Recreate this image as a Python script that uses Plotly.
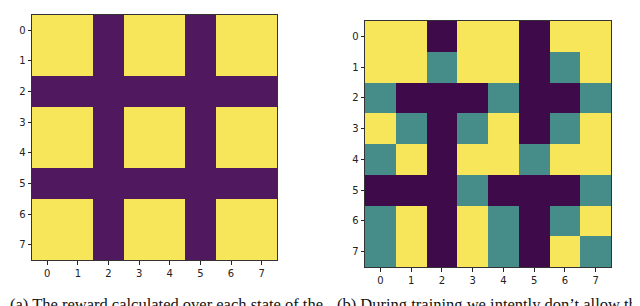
import plotly.graph_objects as go

rows = [0, 1, 2, 3, 4, 5, 6, 7]
cols = [0, 1, 2, 3, 4, 5, 6, 7]
tick_labels = ["0", "1", "2", "3", "4", "5", "6", "7"]

# (a) reward map: 1 = high reward (yellow), 0 = low (purple)
reward = [
    [1, 1, 0, 1, 1, 0, 1, 1],
    [1, 1, 0, 1, 1, 0, 1, 1],
    [0, 0, 0, 0, 0, 0, 0, 0],
    [1, 1, 0, 1, 1, 0, 1, 1],
    [1, 1, 0, 1, 1, 0, 1, 1],
    [0, 0, 0, 0, 0, 0, 0, 0],
    [1, 1, 0, 1, 1, 0, 1, 1],
    [1, 1, 0, 1, 1, 0, 1, 1],
]

# (b) training map: 0 = purple, 1 = teal, 2 = yellow
training = [
    [2, 2, 0, 2, 2, 0, 2, 2],
    [2, 2, 1, 2, 2, 0, 1, 2],
    [1, 0, 0, 0, 1, 0, 0, 1],
    [2, 1, 0, 1, 2, 0, 1, 2],
    [1, 2, 0, 2, 2, 1, 2, 2],
    [0, 0, 0, 1, 0, 0, 0, 1],
    [1, 2, 0, 2, 1, 0, 1, 2],
    [1, 2, 0, 2, 1, 0, 2, 1],
]

caption_a = "(a) The reward calculated over each state of the"
caption_b = "(b) During training we intently don\u2019t allow th"

# page body has an 8px default margin; figure coordinates = page coords - 8
OFF = 8
W, H = 640 - OFF, 306 - OFF

def fx(px):
    return (px - OFF) / W

def fy(py):
    return 1 - (py - OFF) / H

fig = go.Figure()

fig.add_trace(go.Heatmap(
    z=reward, x=cols, y=rows, zmin=0, zmax=1,
    colorscale=[[0, "#50195f"], [0.5, "#50195f"], [0.5, "#f8e65a"], [1, "#f8e65a"]],
    showscale=False, xaxis="x", yaxis="y", hoverinfo="skip"))

fig.add_trace(go.Heatmap(
    z=training, x=cols, y=rows, zmin=0, zmax=2,
    colorscale=[[0, "#3f0a4a"], [0.33, "#3f0a4a"], [0.33, "#468d8a"],
                [0.67, "#468d8a"], [0.67, "#f8e65a"], [1, "#f8e65a"]],
    showscale=False, xaxis="x2", yaxis="y2", hoverinfo="skip"))

axis_common = dict(
    tickmode="array", tickvals=cols, ticktext=tick_labels,
    ticks="outside", ticklen=3.5, tickwidth=0.8, tickcolor="#222",
    showline=True, linecolor="#333", linewidth=1, mirror=True,
    showgrid=False, zeroline=False,
    tickfont=dict(family="DejaVu Sans", size=10, color="#222"),
)

cap_font = dict(family="Liberation Serif", size=16.5, color="#111")

fig.update_layout(
    width=W, height=H,
    margin=dict(l=0, r=0, t=0, b=0),
    paper_bgcolor="white", plot_bgcolor="white",
    xaxis=dict(domain=[fx(32), fx(277)], range=[-0.5, 7.5], anchor="y", **axis_common),
    yaxis=dict(domain=[fy(260), fy(15)], range=[7.5, -0.5], anchor="x", **axis_common),
    xaxis2=dict(domain=[fx(365), fx(611)], range=[-0.5, 7.5], anchor="y2", **axis_common),
    yaxis2=dict(domain=[fy(267), fy(21)], range=[7.5, -0.5], anchor="x2", **axis_common),
    annotations=[
        dict(text=caption_a, xref="paper", yref="paper", x=fx(8), y=fy(304.5),
             xanchor="left", yanchor="middle", showarrow=False, font=cap_font),
        dict(text=caption_b, xref="paper", yref="paper", x=fx(335), y=fy(304.5),
             xanchor="left", yanchor="middle", showarrow=False, font=cap_font),
    ],
)

fig.write_html("out.html")
